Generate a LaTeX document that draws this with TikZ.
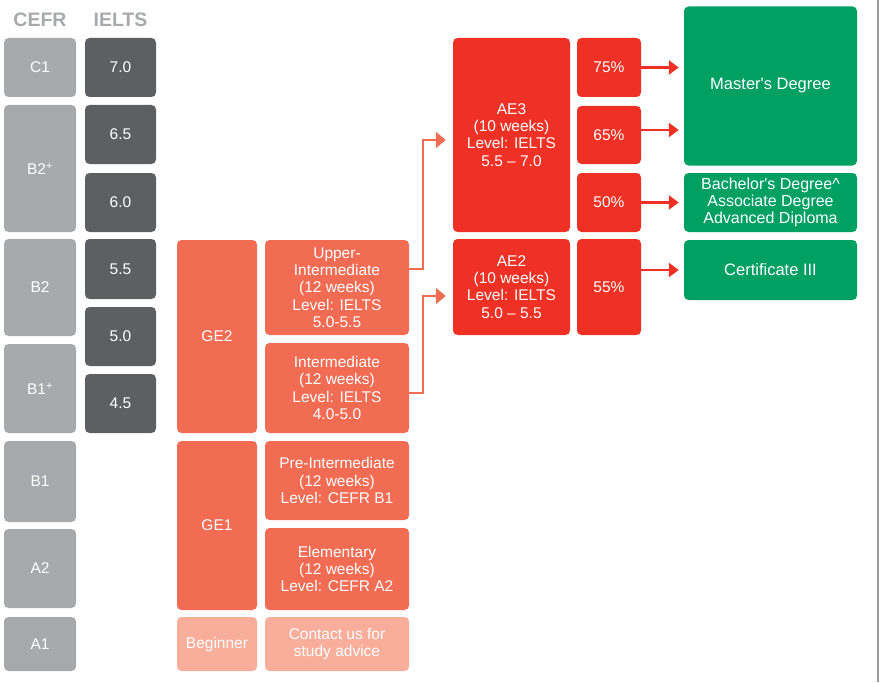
\documentclass[tikz,border=0pt]{standalone}
\usepackage{fontspec}
\setmainfont{Liberation Sans}
\usetikzlibrary{arrows.meta}
\definecolor{cgrey}{HTML}{A7A9AC}
\definecolor{cdark}{HTML}{5E5F61}
\definecolor{corange}{HTML}{F26B53}
\definecolor{clight}{HTML}{F8AE9B}
\definecolor{cred}{HTML}{EE3124}
\definecolor{cgreen}{HTML}{00A063}
\definecolor{cedge}{HTML}{9B9B9B}
\tikzset{
  box/.style={rounded corners=4.5pt, inner sep=0pt, align=center, text=white,
    font=\fontsize{15.5}{17.3}\selectfont},
  hdr/.style={text=cgrey, font=\fontsize{19.5}{20}\selectfont\bfseries, inner sep=0pt},
  redarrow/.style={draw=cred, line width=2.5pt, -{Triangle[length=10pt,width=14pt]}, shorten >=5pt},
  orarrow/.style={draw=corange, line width=2pt, -{Triangle[length=10pt,width=16pt]}, shorten >=7pt},
}
\begin{document}
\begin{tikzpicture}[x=1pt,y=-1pt]
\useasboundingbox (0,0) rectangle (882,682);
\draw[cedge, line width=1.5pt] (878,0) -- (878,682);
% headers
\node[hdr] (hcefr) at (40,20) {CEFR};
\node[hdr] (hielts) at (120.5,20) {IELTS};
% CEFR column
\node[box, fill=cgrey, minimum width=72pt, minimum height=59pt] (c1) at (40,67.5) {C1};
\node[box, fill=cgrey, minimum width=72pt, minimum height=127pt] (b2p) at (40,168.5) {B2\textsuperscript{+}};
\node[box, fill=cgrey, minimum width=72pt, minimum height=97pt] (b2) at (40,287.5) {B2};
\node[box, fill=cgrey, minimum width=72pt, minimum height=89pt] (b1p) at (40,388.5) {B1\textsuperscript{+}};
\node[box, fill=cgrey, minimum width=72pt, minimum height=81pt] (b1) at (40,481.5) {B1};
\node[box, fill=cgrey, minimum width=72pt, minimum height=79pt] (a2) at (40,568.5) {A2};
\node[box, fill=cgrey, minimum width=72pt, minimum height=54pt] (a1) at (40,644) {A1};
% IELTS column
\node[box, fill=cdark, minimum width=71pt, minimum height=59pt] (i70) at (120.5,67.5) {7.0};
\node[box, fill=cdark, minimum width=71pt, minimum height=59pt] (i65) at (120.5,134.5) {6.5};
\node[box, fill=cdark, minimum width=71pt, minimum height=59pt] (i60) at (120.5,202.5) {6.0};
\node[box, fill=cdark, minimum width=71pt, minimum height=60pt] (i55) at (120.5,269) {5.5};
\node[box, fill=cdark, minimum width=71pt, minimum height=59pt] (i50) at (120.5,336.5) {5.0};
\node[box, fill=cdark, minimum width=71pt, minimum height=59pt] (i45) at (120.5,403.5) {4.5};
% GE column
\node[box, fill=corange, minimum width=80pt, minimum height=193pt] (ge2) at (217,336.5) {GE2};
\node[box, fill=corange, minimum width=80pt, minimum height=169pt] (ge1) at (217,525.5) {GE1};
\node[box, fill=clight, minimum width=80pt, minimum height=54pt] (beg) at (217,644) {Beginner};
% courses
\node[box, fill=corange, minimum width=144pt, minimum height=95pt] (up) at (337,287.5) {Upper-\\Intermediate\\(12 weeks)\\Level: IELTS\\5.0-5.5};
\node[box, fill=corange, minimum width=144pt, minimum height=90pt] (int) at (337,388) {Intermediate\\(12 weeks)\\Level: IELTS\\4.0-5.0};
\node[box, fill=corange, minimum width=144pt, minimum height=79pt] (pre) at (337,480.5) {Pre-Intermediate\\(12 weeks)\\Level: CEFR B1};
\node[box, fill=corange, minimum width=144pt, minimum height=82pt] (ele) at (337,569) {Elementary\\(12 weeks)\\Level: CEFR A2};
\node[box, fill=clight, minimum width=144pt, minimum height=54pt] (con) at (337,644) {Contact us for\\study advice};
% AE column
\node[box, fill=cred, minimum width=117pt, minimum height=194pt] (ae3) at (511.5,135) {AE3\\(10 weeks)\\Level: IELTS\\5.5 – 7.0};
\node[box, fill=cred, minimum width=117pt, minimum height=96pt] (ae2) at (511.5,287) {AE2\\(10 weeks)\\Level: IELTS\\5.0 – 5.5};
% percentages
\node[box, fill=cred, minimum width=64pt, minimum height=59pt] (p75) at (609,67.5) {75\%};
\node[box, fill=cred, minimum width=64pt, minimum height=58pt] (p65) at (609,135) {65\%};
\node[box, fill=cred, minimum width=64pt, minimum height=59pt] (p50) at (609,202.5) {50\%};
\node[box, fill=cred, minimum width=64pt, minimum height=96pt] (p55) at (609,287) {55\%};
% outcomes
\node[box, fill=cgreen, minimum width=173pt, minimum height=159pt, font=\fontsize{16.5}{17.3}\selectfont] (ms) at (770.5,86) {Master\textquotesingle s Degree};
\node[box, fill=cgreen, minimum width=173pt, minimum height=59pt, font=\fontsize{16}{17}\selectfont] (ba) at (770.5,202.5) {Bachelor\textquotesingle s Degree\^{}\\Associate Degree\\Advanced Diploma};
\node[box, fill=cgreen, minimum width=173pt, minimum height=60pt, font=\fontsize{16.5}{17.3}\selectfont] (c3) at (770.5,270) {Certificate III};
% red arrows
\draw[redarrow] (p75.east) -- (p75.east -| ms.west);
\draw[redarrow] ([yshift=5pt]p65.east) -- ([yshift=5pt]p65.east -| ms.west);
\draw[redarrow] (p50.east) -- (ba.west);
\draw[redarrow] (p55.east |- c3.west) -- (c3.west);
% orange connectors
\draw[orarrow] ([yshift=18.5pt]up.east) -- ++(13.5,0) |- ([yshift=-5pt]ae3.west);
\draw[orarrow] ([yshift=-5pt]int.east) -- ++(13.5,0) |- ([yshift=-9pt]ae2.west);
\end{tikzpicture}
\end{document}
